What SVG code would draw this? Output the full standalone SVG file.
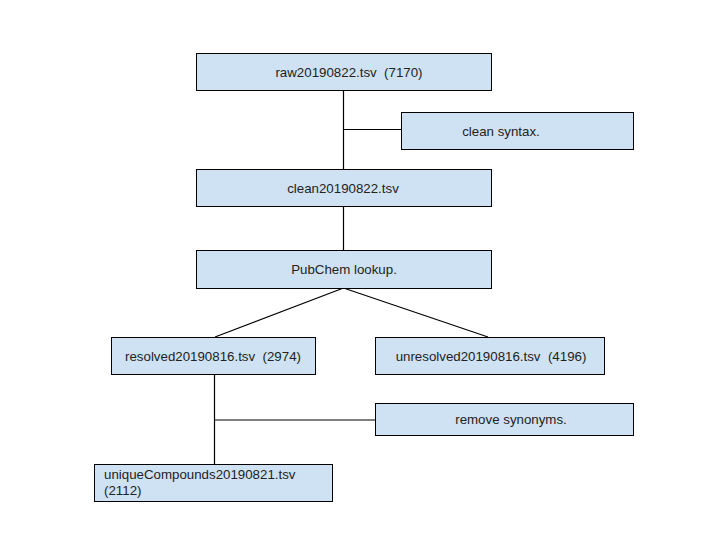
<svg xmlns="http://www.w3.org/2000/svg" width="720" height="540" viewBox="0 0 720 540">
<style>
.n rect{fill:#cfe2f3;stroke:#000;stroke-width:1}
.n text{font-family:"Liberation Sans",Arial,sans-serif;font-size:13.3px;fill:#222;text-anchor:middle;white-space:pre}
.c line{stroke:#000;stroke-width:1.2}
</style>
<rect width="720" height="540" fill="#fff"/>
<g class="c">
<line x1="343.5" y1="90" x2="343.5" y2="170"/>
<line x1="343.5" y1="129.5" x2="402" y2="129.5"/>
<line x1="343.5" y1="206" x2="343.5" y2="250"/>
<line x1="343.5" y1="288" x2="215" y2="337"/>
<line x1="343.5" y1="288" x2="488" y2="337"/>
<line x1="214.5" y1="374" x2="214.5" y2="464"/>
<line x1="214.5" y1="420" x2="375" y2="420"/>
</g>
<g id="raw" class="n"><rect x="196.5" y="53.5" width="295" height="37"/><text x="349" y="76.5">raw20190822.tsv  (7170)</text></g>
<g id="cleansyntax" class="n"><rect x="401.5" y="112.5" width="232" height="37"/><text x="501" y="135.5">clean syntax.</text></g>
<g id="clean" class="n"><rect x="196.5" y="169.5" width="295" height="37"/><text x="343" y="192.5">clean20190822.tsv</text></g>
<g id="pubchem" class="n"><rect x="196.5" y="250.5" width="295" height="38"/><text x="344" y="273.5">PubChem lookup.</text></g>
<g id="resolved" class="n"><rect x="111.5" y="337.5" width="204" height="37"/><text x="213" y="360.5">resolved20190816.tsv  (2974)</text></g>
<g id="unresolved" class="n"><rect x="375.5" y="337.5" width="229" height="37"/><text x="491" y="360.5">unresolved20190816.tsv  (4196)</text></g>
<g id="synonyms" class="n"><rect x="375.5" y="403.5" width="258" height="32"/><text x="511" y="424">remove synonyms.</text></g>
<g id="unique" class="n"><rect x="94.5" y="464.5" width="238" height="37"/><text x="104" y="479" style="text-anchor:start">uniqueCompounds20190821.tsv</text><text x="104" y="495" style="text-anchor:start">(2112)</text></g>
</svg>
